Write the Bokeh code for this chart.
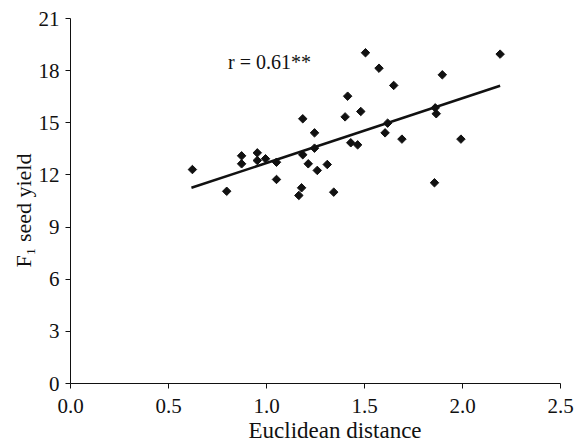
import numpy as np
from bokeh.plotting import figure
from bokeh.models import Range1d, FixedTicker, Label, Title, ColumnDataSource
from bokeh.embed import file_html
from bokeh.resources import INLINE

# Data
distance = [0.622, 0.797, 0.873, 0.873, 0.953, 0.953, 0.995, 1.051, 1.051,
            1.185, 1.185, 1.213, 1.245, 1.245, 1.259, 1.179, 1.165, 1.31,
            1.343, 1.401, 1.414, 1.43, 1.465, 1.481, 1.505, 1.574, 1.605,
            1.618, 1.649, 1.691, 1.857, 1.861, 1.866, 1.897, 1.992, 2.192]
seed_yield = [12.31, 11.06, 13.1, 12.64, 13.27, 12.83, 12.93, 12.73, 11.74,
              15.23, 13.16, 12.64, 14.42, 13.54, 12.26, 11.26, 10.82, 12.6,
              11.01, 15.34, 16.53, 13.85, 13.73, 15.65, 19.03, 18.14, 14.42,
              14.98, 17.15, 14.06, 11.55, 15.86, 15.52, 17.76, 14.06, 18.95]
fit_x = [0.617, 2.192]
fit_y = [11.26, 17.13]

x_ticks = [0.0, 0.5, 1.0, 1.5, 2.0, 2.5]
x_tick_labels = ["0.0", "0.5", "1.0", "1.5", "2.0", "2.5"]
y_ticks = [0, 3, 6, 9, 12, 15, 18, 21]
y_tick_labels = ["0", "3", "6", "9", "12", "15", "18", "21"]

x_title = "Euclidean distance"
y_title = "F\u2081 seed yield"
annotation = "r = 0.61**"

FONT = "Liberation Serif"
INK = "#111111"

p = figure(width=576, height=443, output_backend="svg", toolbar_location=None,
           x_range=Range1d(0, 2.5), y_range=Range1d(0, 21),
           min_border_left=70, min_border_right=16, min_border_top=18,
           min_border_bottom=60)
p.outline_line_color = None
p.xgrid.visible = False
p.ygrid.visible = False
p.background_fill_color = "white"
p.border_fill_color = "white"

for ax, ticks, labels in ((p.xaxis[0], x_ticks, x_tick_labels),
                          (p.yaxis[0], y_ticks, y_tick_labels)):
    ax.ticker = FixedTicker(ticks=ticks)
    ax.major_label_overrides = {t: l for t, l in zip(ticks, labels)}
    ax.major_label_text_font = FONT
    ax.major_label_text_font_size = "21px"
    ax.major_label_text_color = INK
    ax.axis_line_color = INK
    ax.axis_line_width = 1
    ax.major_tick_line_color = INK
    ax.major_tick_in = 0
    ax.major_tick_out = 5
    ax.minor_tick_line_color = None
p.xaxis.major_label_standoff = 10
p.yaxis.major_label_standoff = 6

p.add_layout(Title(text=x_title, align="left", offset=178, standoff=0,
                   text_font=FONT, text_font_size="23px",
                   text_font_style="normal", text_color=INK), "below")
p.add_layout(Title(text=y_title, align="left", offset=116, standoff=0,
                   text_font=FONT, text_font_size="22px",
                   text_font_style="normal", text_color=INK), "left")

src = ColumnDataSource(dict(x=distance, y=seed_yield))
p.scatter("x", "y", source=src, marker="square", angle=np.pi / 4, size=6,
          fill_color=INK, line_color=INK, line_width=1)
p.line(fit_x, fit_y, line_color=INK, line_width=2.5)

p.add_layout(Label(x=0.804, y=18.47, text=annotation, text_font=FONT,
                   text_font_size="20px", text_color=INK,
                   text_baseline="alphabetic", text_align="left"))

open("out.html", "w").write(file_html(p, INLINE))
